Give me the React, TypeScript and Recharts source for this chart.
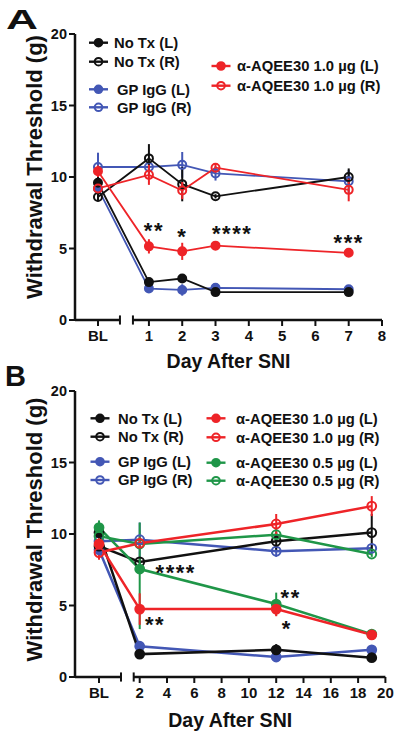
import React from 'react';
import { LineChart, Line, XAxis, YAxis, ErrorBar, ReferenceLine, ReferenceDot, Legend, Label } from 'recharts';

const FONT = '"Liberation Sans", Arial, Helvetica, sans-serif';
const BLACK = '#111111';
const BLUE = '#4357B5';
const RED = '#EE2428';
const GREEN = '#1F9648';

// ---- Panel A values ----
const daysA = ['BL', 1, 2, 3, 7];
const noTxL_A = [9.6, 2.65, 2.9, 1.95, 1.95];
const noTxLErr_A = [0.4, 0.2, 0.2, 0.1, 0.1];
const noTxR_A = [8.6, 11.3, 9.5, 8.65, 10.0];
const noTxRErr_A = [0.3, 1.0, 1.2, 0.15, 0.6];
const gpL_A = [9.2, 2.2, 2.1, 2.25, 2.15];
const gpLErr_A = [0.3, 0.2, 0.4, 0.15, 0.15];
const gpR_A = [10.7, 10.7, 10.85, 10.25, 9.7];
const gpRErr_A = [1.0, 0.5, 0.9, 0.5, 0.8];
const redL_A = [10.4, 5.15, 4.8, 5.2, 4.7];
const redLErr_A = [0.4, 0.5, 0.6, 0.3, 0.15];
const redR_A = [9.2, 10.15, 9.05, 10.65, 9.1];
const redRErr_A = [0.3, 0.7, 0.6, 0.3, 0.8];
const starsA = [
  { day: 1.15, y: 6.58, text: '**' },
  { day: 2.0, y: 6.14, text: '*' },
  { day: 3.5, y: 6.35, text: '****' },
  { day: 7.0, y: 5.76, text: '***' },
];

// ---- Panel B values ----
const daysB = ['BL', 2, 12, 19];
const noTxL_B = [10.1, 1.6, 1.9, 1.35];
const noTxLErr_B = [0.8, 0.3, 0.4, 0.15];
const noTxR_B = [9.15, 8.05, 9.5, 10.1];
const noTxRErr_B = [0.4, 0.3, 0.6, 1.3];
const gpL_B = [8.9, 2.15, 1.4, 1.9];
const gpLErr_B = [0.3, 0.2, 0.35, 0.15];
const gpR_B = [9.5, 9.6, 8.8, 9.0];
const gpRErr_B = [0.4, 1.2, 0.4, 0.3];
const redL_B = [9.3, 4.75, 4.75, 2.95];
const redLErr_B = [0.4, 1.1, 0.5, 0.15];
const redR_B = [8.7, 9.35, 10.7, 11.95];
const redRErr_B = [0.5, 0.4, 0.7, 0.7];
const grnL_B = [10.45, 7.55, 5.1, 3.0];
const grnLErr_B = [0.5, [4.2, 3.25], 0.8, 0.15];
const grnR_B = [9.85, 9.3, 9.95, 8.6];
const grnRErr_B = [0.3, 0.3, 0.3, 0.2];
const starsB = [
  { day: 4.64, y: 7.61, text: '****' },
  { day: 3.12, y: 4.01, text: '**' },
  { day: 13.06, y: 5.87, text: '**' },
  { day: 12.77, y: 3.71, text: '*' },
];

const yTicks = [0, 5, 10, 15, 20];
const xTicksA = [1, 2, 3, 4, 5, 6, 7, 8];
const xTicksB = [2, 4, 6, 8, 10, 12, 14, 16, 18, 20];

type Series = { key: string; name: string; color: string; filled: boolean; values: number[]; errors: any[] };

const seriesA: Series[] = [
  { key: 'gpL', name: 'GP IgG (L)', color: BLUE, filled: true, values: gpL_A, errors: gpLErr_A },
  { key: 'gpR', name: 'GP IgG (R)', color: BLUE, filled: false, values: gpR_A, errors: gpRErr_A },
  { key: 'noTxL', name: 'No Tx (L)', color: BLACK, filled: true, values: noTxL_A, errors: noTxLErr_A },
  { key: 'noTxR', name: 'No Tx (R)', color: BLACK, filled: false, values: noTxR_A, errors: noTxRErr_A },
  { key: 'redL', name: 'α-AQEE30 1.0 µg (L)', color: RED, filled: true, values: redL_A, errors: redLErr_A },
  { key: 'redR', name: 'α-AQEE30 1.0 µg (R)', color: RED, filled: false, values: redR_A, errors: redRErr_A },
];

const seriesB: Series[] = [
  { key: 'gpL', name: 'GP IgG (L)', color: BLUE, filled: true, values: gpL_B, errors: gpLErr_B },
  { key: 'gpR', name: 'GP IgG (R)', color: BLUE, filled: false, values: gpR_B, errors: gpRErr_B },
  { key: 'noTxL', name: 'No Tx (L)', color: BLACK, filled: true, values: noTxL_B, errors: noTxLErr_B },
  { key: 'noTxR', name: 'No Tx (R)', color: BLACK, filled: false, values: noTxR_B, errors: noTxRErr_B },
  { key: 'grnL', name: 'α-AQEE30 0.5 µg (L)', color: GREEN, filled: true, values: grnL_B, errors: grnLErr_B },
  { key: 'grnR', name: 'α-AQEE30 0.5 µg (R)', color: GREEN, filled: false, values: grnR_B, errors: grnRErr_B },
  { key: 'redL', name: 'α-AQEE30 1.0 µg (L)', color: RED, filled: true, values: redL_B, errors: redLErr_B },
  { key: 'redR', name: 'α-AQEE30 1.0 µg (R)', color: RED, filled: false, values: redR_B, errors: redRErr_B },
];

// legend layout (px inside each chart box)
const legendA = [
  { key: 'noTxL', mx: 98.5, tx: 114, y: 42.7 },
  { key: 'noTxR', mx: 98.5, tx: 114, y: 61.7 },
  { key: 'gpL', mx: 98.5, tx: 117, y: 89.3 },
  { key: 'gpR', mx: 98.5, tx: 117, y: 107.3 },
  { key: 'redL', mx: 221, tx: 237, y: 66 },
  { key: 'redR', mx: 221, tx: 237, y: 85.7 },
];
const legendB = [
  { key: 'noTxL', mx: 100, tx: 118, y: 50.3 },
  { key: 'noTxR', mx: 100, tx: 118, y: 68.7 },
  { key: 'gpL', mx: 100, tx: 118, y: 93.7 },
  { key: 'gpR', mx: 100, tx: 118, y: 112 },
  { key: 'redL', mx: 216, tx: 236, y: 50.3 },
  { key: 'redR', mx: 216, tx: 236, y: 69.3 },
  { key: 'grnL', mx: 216, tx: 236, y: 94.7 },
  { key: 'grnR', mx: 216, tx: 236, y: 112.7 },
];

function buildRows(days: (string | number)[], blX: number, series: Series[]) {
  return days.map((d, i) => {
    const row: any = { x: d === 'BL' ? blX : d };
    series.forEach(s => {
      row[s.key] = s.values[i];
      row[s.key + 'Err'] = s.errors[i];
    });
    return row;
  });
}

type PanelProps = {
  top: number;
  height: number;
  marginTop: number;
  marginRight: number;
  marginBottom: number;
  xAxisHeight: number;
  xDomain: [number, number];
  blX: number;
  breakL: number;
  breakR: number;
  xTicks: number[];
  days: (string | number)[];
  series: Series[];
  legend: { key: string; mx: number; tx: number; y: number }[];
  stars: { day: number; y: number; text: string }[];
  lineWidth: number;
  dotR: number;
  yLabelShift: number;
  xLabelDy: number;
};

function Panel(p: PanelProps) {
  const data = buildRows(p.days, p.blX, p.series);
  const text = { fill: BLACK, fontFamily: FONT, fontWeight: 700 };
  const cap = 0.32;

  const renderLegend = () => (
    <svg width={400} height={p.height} style={{ overflow: 'visible' }}>
      {p.legend.map(item => {
        const s = p.series.find(x => x.key === item.key)!;
        return (
          <g key={item.key}>
            <line x1={item.mx - 9.5} x2={item.mx + 9.5} y1={item.y} y2={item.y} stroke={s.color} strokeWidth={2.4} />
            <circle cx={item.mx} cy={item.y} r={3.8} fill={s.filled ? s.color : 'none'} stroke={s.color} strokeWidth={2} />
            <text x={item.tx} y={item.y + 5.2} fontSize={14.8} {...text}>{s.name}</text>
          </g>
        );
      })}
    </svg>
  );

  return (
    <div style={{ position: 'absolute', left: 0, top: p.top }}>
      <LineChart
        width={400}
        height={p.height}
        data={data}
        margin={{ top: p.marginTop, right: p.marginRight, left: 0, bottom: p.marginBottom }}
      >
        <XAxis
          type="number"
          dataKey="x"
          domain={p.xDomain}
          allowDataOverflow
          ticks={[p.blX, ...p.xTicks]}
          interval={0}
          tickFormatter={(v: number) => (v === p.blX ? 'BL' : String(v))}
          axisLine={false}
          tickLine={{ stroke: BLACK, strokeWidth: 2 }}
          tickSize={6}
          tickMargin={4}
          tick={{ ...text, fontSize: 15 }}
          height={p.xAxisHeight}
        >
          <Label
            content={(lp: any) => {
              const vb = lp.viewBox || {};
              return (
                <text x={vb.x + vb.width / 2} y={vb.y + p.xLabelDy} textAnchor="middle" fontSize={19.5} {...text}>
                  Day After SNI
                </text>
              );
            }}
          />
        </XAxis>
        <YAxis
          domain={[0, 20]}
          ticks={yTicks}
          interval={0}
          width={75}
          axisLine={{ stroke: BLACK, strokeWidth: 2.5 }}
          tickLine={{ stroke: BLACK, strokeWidth: 2 }}
          tickSize={6}
          tickMargin={2}
          tick={{ ...text, fontSize: 14.5 }}
        >
          <Label
            content={(lp: any) => {
              const vb = lp.viewBox || {};
              const cy = vb.y + vb.height / 2 + p.yLabelShift;
              return (
                <text
                  transform={`translate(34, ${cy}) rotate(-90)`}
                  x={0}
                  y={7.5}
                  textAnchor="middle"
                  fontSize={22}
                  {...text}
                >
                  Withdrawal Threshold (g)
                </text>
              );
            }}
          />
        </YAxis>

        <ReferenceLine segment={[{ x: p.xDomain[0], y: 0 }, { x: p.breakL, y: 0 }]} stroke={BLACK} strokeWidth={2.5} ifOverflow="visible" />
        <ReferenceLine segment={[{ x: p.breakR, y: 0 }, { x: p.xDomain[1], y: 0 }]} stroke={BLACK} strokeWidth={2.5} ifOverflow="visible" />
        <ReferenceLine segment={[{ x: p.breakL, y: -cap }, { x: p.breakL, y: cap }]} stroke={BLACK} strokeWidth={2} ifOverflow="visible" />
        <ReferenceLine segment={[{ x: p.breakR, y: -cap }, { x: p.breakR, y: cap }]} stroke={BLACK} strokeWidth={2} ifOverflow="visible" />

        {p.series.map(s => (
          <Line
            key={s.key}
            dataKey={s.key}
            stroke={s.color}
            strokeWidth={p.lineWidth}
            isAnimationActive={false}
            activeDot={false}
            dot={(dp: any) => (
              <circle
                key={`${s.key}-${dp.index}`}
                cx={dp.cx}
                cy={dp.cy}
                r={p.dotR}
                fill={s.filled ? s.color : 'none'}
                stroke={s.color}
                strokeWidth={2}
              />
            )}
          >
            <ErrorBar dataKey={s.key + 'Err'} width={0} stroke={s.color} strokeWidth={2} direction="y" />
          </Line>
        ))}

        {p.stars.map((st, i) => (
          <ReferenceDot
            key={i}
            x={st.day}
            y={st.y}
            ifOverflow="visible"
            shape={(sp: any) => (
              <text x={sp.cx} y={sp.cy + 12} textAnchor="middle" fontSize={22} letterSpacing={1.5} {...text}>
                {st.text}
              </text>
            )}
          />
        ))}

        <Legend
          content={renderLegend}
          layout="horizontal"
          verticalAlign="middle"
          align="center"
          wrapperStyle={{ left: 0, top: 0, width: 400, height: p.height, pointerEvents: 'none' }}
        />
      </LineChart>
    </div>
  );
}

export default function App() {
  return (
    <div style={{ position: 'absolute', left: 0, top: 0, width: 400, height: 738, background: '#fff' }}>
      <Panel
        top={0}
        height={382}
        marginTop={34}
        marginRight={18}
        marginBottom={12}
        xAxisHeight={50}
        xDomain={[-1.22, 8]}
        blX={-0.53}
        breakL={0.13}
        breakR={0.52}
        xTicks={xTicksA}
        days={daysA}
        series={seriesA}
        legend={legendA}
        stars={starsA}
        lineWidth={1.8}
        dotR={4}
        yLabelShift={-10}
        xLabelDy={48}
      />
      <Panel
        top={368}
        height={370}
        marginTop={23}
        marginRight={14.6}
        marginBottom={0}
        xAxisHeight={61}
        xDomain={[-2.74, 20]}
        blX={-0.98}
        breakL={0.63}
        breakR={1.56}
        xTicks={xTicksB}
        days={daysB}
        series={seriesB}
        legend={legendB}
        stars={starsB}
        lineWidth={2.5}
        dotR={4.4}
        yLabelShift={-4.5}
        xLabelDy={50}
      />
      {/* panel letters */}
      <svg width={400} height={738} style={{ position: 'absolute', left: 0, top: 0, pointerEvents: 'none' }}>
        <text x={6} y={29} fontSize={28} fontFamily={FONT} fontWeight={700} fill={BLACK} textLength={32} lengthAdjust="spacingAndGlyphs">
          A
        </text>
        <text x={5} y={386} fontSize={29} fontFamily={FONT} fontWeight={700} fill={BLACK}>
          B
        </text>
      </svg>
    </div>
  );
}
